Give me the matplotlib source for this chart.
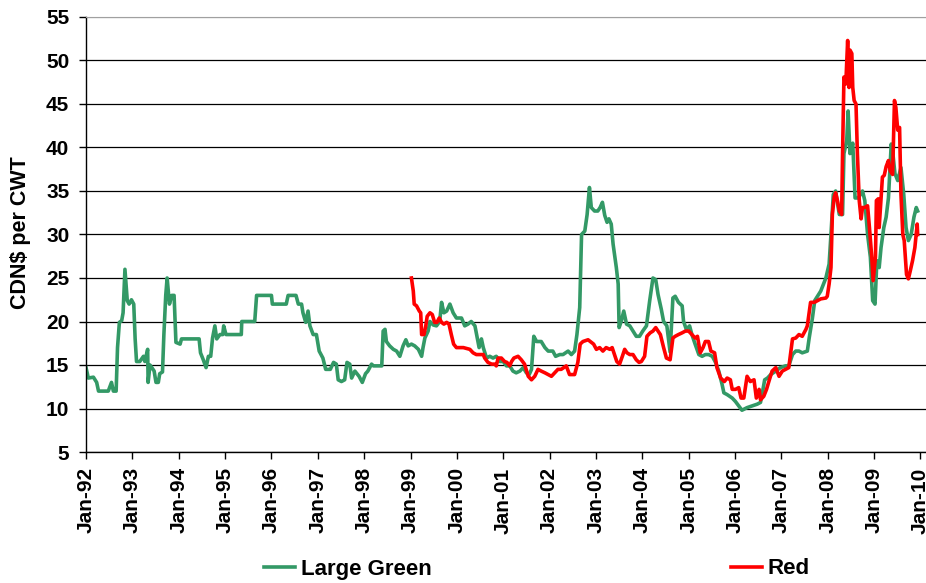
import matplotlib
matplotlib.use("Agg")
import matplotlib.pyplot as plt

plt.rcParams['font.family'] = ['Liberation Sans', 'DejaVu Sans']
plt.rcParams['font.weight'] = 'bold'

# decimal years
green_years = [1992.00, 1992.05, 1992.16, 1992.23, 1992.27, 1992.48, 1992.55, 1992.59, 1992.65, 1992.68,
               1992.72, 1992.77, 1992.80, 1992.84, 1992.89, 1992.93, 1992.98, 1993.03, 1993.06, 1993.09,
               1993.16, 1993.24, 1993.27, 1993.33, 1993.34, 1993.38, 1993.42, 1993.47, 1993.51, 1993.56,
               1993.59, 1993.65, 1993.68, 1993.72, 1993.75, 1993.80, 1993.85, 1993.90, 1993.94, 1994.03,
               1994.06, 1994.44, 1994.47, 1994.53, 1994.59, 1994.64, 1994.69, 1994.73, 1994.78, 1994.82,
               1994.89, 1994.95, 1994.97, 1995.02, 1995.35, 1995.36, 1995.64, 1995.68, 1996.00, 1996.02,
               1996.32, 1996.36, 1996.53, 1996.58, 1996.65, 1996.68, 1996.74, 1996.79, 1996.83, 1996.90,
               1996.97, 1997.03, 1997.11, 1997.17, 1997.27, 1997.34, 1997.40, 1997.44, 1997.51, 1997.58,
               1997.63, 1997.69, 1997.73, 1997.80, 1997.89, 1997.96, 1998.03, 1998.08, 1998.16, 1998.20,
               1998.38, 1998.41, 1998.45, 1998.48, 1998.55, 1998.63, 1998.70, 1998.77, 1998.84, 1998.90,
               1998.95, 1999.02, 1999.09, 1999.17, 1999.24, 1999.27, 1999.31, 1999.38, 1999.42, 1999.49,
               1999.56, 1999.63, 1999.67, 1999.72, 1999.78, 1999.85, 1999.92, 1999.99, 2000.10, 2000.17,
               2000.24, 2000.31, 2000.39, 2000.44, 2000.48, 2000.53, 2000.57, 2000.64, 2000.71, 2000.78,
               2000.85, 2000.93, 2001.00, 2001.07, 2001.14, 2001.21, 2001.28, 2001.36, 2001.43, 2001.50,
               2001.56, 2001.61, 2001.66, 2001.72, 2001.82, 2001.90, 2001.97, 2002.07, 2002.13, 2002.22,
               2002.29, 2002.40, 2002.47, 2002.54, 2002.59, 2002.65, 2002.69, 2002.76, 2002.81, 2002.86,
               2002.90, 2002.97, 2003.04, 2003.09, 2003.14, 2003.19, 2003.24, 2003.28, 2003.33, 2003.37,
               2003.44, 2003.48, 2003.50, 2003.55, 2003.60, 2003.66, 2003.73, 2003.80, 2003.87, 2003.94,
               2004.01, 2004.09, 2004.16, 2004.23, 2004.29, 2004.34, 2004.41, 2004.46, 2004.53, 2004.60,
               2004.66, 2004.71, 2004.78, 2004.86, 2004.89, 2004.95, 2005.02, 2005.07, 2005.14, 2005.22,
               2005.29, 2005.36, 2005.43, 2005.51, 2005.58, 2005.65, 2005.72, 2005.76, 2005.83, 2005.94,
               2006.01, 2006.08, 2006.15, 2006.26, 2006.37, 2006.48, 2006.55, 2006.59, 2006.64, 2006.70,
               2006.77, 2006.88, 2006.98, 2007.09, 2007.16, 2007.24, 2007.31, 2007.38, 2007.45, 2007.56,
               2007.60, 2007.67, 2007.72, 2007.78, 2007.85, 2007.91, 2007.96, 2008.03, 2008.07, 2008.12,
               2008.17, 2008.25, 2008.32, 2008.35, 2008.41, 2008.44, 2008.48, 2008.54, 2008.59, 2008.66,
               2008.75, 2008.80, 2008.86, 2008.92, 2008.97, 2009.02, 2009.06, 2009.11, 2009.15, 2009.21,
               2009.26, 2009.31, 2009.37, 2009.40, 2009.45, 2009.51, 2009.58, 2009.64, 2009.69, 2009.74,
               2009.80, 2009.86, 2009.91, 2009.94]
green_vals = [14.7, 13.5, 13.6, 13.0, 12.0, 12.0, 13.0, 12.0, 12.0, 17.0,
              19.9, 20.1, 21.0, 26.0, 22.4, 22.0, 22.5, 22.0, 18.0, 15.4,
              15.4, 16.0, 15.4, 16.8, 13.0, 15.0, 14.7, 14.3, 13.0, 13.0,
              14.0, 14.2, 18.5, 23.0, 25.0, 22.0, 23.0, 23.0, 17.6, 17.4,
              18.0, 18.0, 16.4, 15.6, 14.7, 16.0, 16.0, 18.1, 19.5, 18.0,
              18.5, 18.5, 19.5, 18.5, 18.5, 20.0, 20.0, 23.0, 23.0, 22.0,
              22.0, 23.0, 23.0, 22.0, 22.0, 21.0, 19.9, 21.2, 19.5, 18.5,
              18.5, 16.6, 15.8, 14.5, 14.5, 15.3, 15.1, 13.3, 13.1, 13.3,
              15.3, 15.1, 13.5, 14.3, 13.7, 13.0, 14.0, 14.3, 15.1, 14.9,
              14.9, 18.9, 19.1, 17.7, 17.2, 16.8, 16.6, 16.0, 17.2, 17.9,
              17.2, 17.4, 17.2, 16.8, 16.0, 17.0, 18.1, 18.9, 20.0, 19.6,
              19.5, 20.0, 22.2, 21.0, 21.2, 22.0, 21.0, 20.4, 20.4, 19.5,
              19.7, 20.0, 19.5, 18.1, 17.0, 18.0, 17.0, 15.8, 16.0, 15.8,
              16.0, 15.4, 15.4, 14.9, 14.9, 14.3, 14.1, 14.3, 14.7, 14.1,
              13.9, 14.5, 18.3, 17.7, 17.7, 17.0, 16.6, 16.6, 16.0, 16.2,
              16.2, 16.6, 16.2, 16.6, 18.5, 21.6, 30.0, 30.4, 32.3, 35.4,
              33.1, 32.7, 32.7, 33.1, 33.7, 32.2, 31.4, 31.8, 31.2, 28.9,
              26.2, 24.3, 19.3, 20.1, 21.2, 19.7, 19.5, 18.9, 18.3, 18.3,
              18.9, 19.5, 22.4, 25.0, 24.8, 23.1, 21.4, 20.0, 19.5, 16.5,
              22.7, 22.9, 22.2, 21.8, 20.0, 19.1, 19.5, 18.5, 17.4, 16.2,
              16.0, 16.2, 16.2, 16.0, 15.3, 14.3, 12.8, 11.8, 11.6, 11.2,
              10.8, 10.3, 9.8, 10.1, 10.3, 10.5, 10.7, 11.8, 13.3, 13.5,
              13.9, 14.3, 14.7, 14.9, 14.9, 16.2, 16.6, 16.6, 16.4, 16.6,
              18.1, 20.4, 22.4, 22.9, 23.5, 24.3, 25.0, 26.6, 30.0, 34.6,
              35.0, 32.3, 32.3, 39.3, 40.8, 44.2, 39.3, 40.5, 34.2, 34.2,
              35.0, 33.9, 30.0, 27.4, 22.4, 22.0, 27.0, 26.2, 28.5, 30.8,
              32.0, 34.2, 40.4, 39.6, 37.0, 36.2, 37.7, 34.6, 30.8, 29.3,
              30.0, 32.0, 33.1, 32.7]

red_years = [1999.02, 1999.06, 1999.08, 1999.13, 1999.19, 1999.22, 1999.24, 1999.29, 1999.33, 1999.36,
             1999.42, 1999.47, 1999.52, 1999.57, 1999.62, 1999.67, 1999.72, 1999.78, 1999.83, 1999.88,
             1999.93, 1999.99, 2000.14, 2000.28, 2000.35, 2000.42, 2000.57, 2000.60, 2000.67, 2000.75,
             2000.82, 2000.85, 2000.89, 2000.96, 2001.03, 2001.08, 2001.14, 2001.18, 2001.23, 2001.32,
             2001.39, 2001.46, 2001.54, 2001.61, 2001.68, 2001.75, 2001.82, 2001.90, 2001.97, 2002.04,
             2002.11, 2002.18, 2002.25, 2002.36, 2002.43, 2002.54, 2002.61, 2002.66, 2002.72, 2002.83,
             2002.90, 2002.95, 2003.01, 2003.08, 2003.15, 2003.22, 2003.30, 2003.35, 2003.40, 2003.45,
             2003.51, 2003.57, 2003.62, 2003.67, 2003.73, 2003.80, 2003.87, 2003.93, 2003.98, 2004.05,
             2004.10, 2004.17, 2004.23, 2004.29, 2004.34, 2004.39, 2004.46, 2004.52, 2004.60, 2004.66,
             2004.71, 2004.78, 2004.86, 2004.93, 2005.00, 2005.07, 2005.14, 2005.19, 2005.25, 2005.31,
             2005.36, 2005.43, 2005.48, 2005.56, 2005.61, 2005.69, 2005.77, 2005.83, 2005.90, 2005.94,
             2006.01, 2006.08, 2006.13, 2006.19, 2006.26, 2006.33, 2006.41, 2006.46, 2006.52, 2006.55,
             2006.62, 2006.68, 2006.73, 2006.80, 2006.88, 2006.95, 2007.02, 2007.09, 2007.16, 2007.24,
             2007.31, 2007.38, 2007.45, 2007.53, 2007.56, 2007.63, 2007.71, 2007.78, 2007.85, 2007.96,
             2007.99, 2008.03, 2008.07, 2008.10, 2008.14, 2008.17, 2008.21, 2008.25, 2008.30, 2008.32,
             2008.35, 2008.39, 2008.43, 2008.46, 2008.48, 2008.52, 2008.54, 2008.57, 2008.61, 2008.64,
             2008.68, 2008.72, 2008.75, 2008.80, 2008.86, 2008.90, 2008.95, 2008.98, 2009.03, 2009.05,
             2009.09, 2009.11, 2009.15, 2009.18, 2009.22, 2009.26, 2009.31, 2009.35, 2009.40, 2009.44,
             2009.47, 2009.51, 2009.55, 2009.58, 2009.62, 2009.65, 2009.70, 2009.74, 2009.78, 2009.83,
             2009.88, 2009.93, 2009.94]
red_vals = [25.0, 23.5, 22.0, 21.8, 21.2, 21.0, 18.5, 18.5, 19.5, 20.6,
            21.0, 20.8, 19.9, 19.9, 20.4, 19.9, 19.7, 19.9, 19.7, 18.5,
            17.4, 17.0, 17.0, 16.8, 16.4, 16.2, 16.2, 15.8, 15.3, 15.1,
            15.1, 14.9, 15.8, 15.8, 15.4, 15.3, 14.9, 15.4, 15.8, 16.0,
            15.6, 15.1, 13.7, 13.3, 13.7, 14.5, 14.3, 14.1, 13.9, 13.7,
            14.1, 14.5, 14.5, 14.9, 13.9, 13.9, 15.3, 17.4, 17.7, 17.9,
            17.6, 17.4, 16.8, 17.0, 16.6, 17.0, 16.8, 17.0, 16.2, 15.4,
            15.1, 16.0, 16.8, 16.4, 16.2, 16.2, 15.6, 15.3, 15.4, 16.0,
            18.3, 18.7, 18.9, 19.3, 18.9, 18.5, 17.0, 15.8, 15.6, 18.1,
            18.3, 18.5, 18.7, 18.9, 18.9, 18.5, 18.1, 18.3, 16.4, 17.0,
            17.7, 17.7, 16.6, 16.4, 14.7, 13.5, 13.1, 13.5, 13.3, 12.2,
            12.2, 12.4, 11.2, 11.2, 13.7, 13.1, 13.3, 11.2, 12.2, 11.0,
            11.4, 12.2, 13.1, 14.3, 14.7, 13.7, 14.3, 14.5, 14.7, 18.0,
            18.1, 18.5, 18.3, 19.1, 19.5, 22.2, 22.2, 22.4, 22.6, 22.7,
            22.9, 24.3, 26.2, 32.3, 34.3, 34.8, 33.9, 32.7, 32.3, 39.3,
            48.1, 47.3, 52.3, 46.9, 51.2, 50.8, 46.9, 45.4, 45.0, 39.3,
            33.9, 31.8, 33.1, 33.1, 33.3, 30.8, 27.4, 24.7, 27.4, 33.9,
            34.1, 30.8, 34.2, 36.6, 36.8, 37.8, 38.5, 37.3, 36.9, 45.4,
            44.6, 42.0, 42.3, 34.6, 30.0, 29.3, 25.4, 24.9, 25.8, 27.0,
            28.5, 31.2, 30.0]

tick_years = list(range(1992, 2011))
tick_labels = ["Jan-%02d" % (y % 100) for y in tick_years]

fig = plt.figure(figsize=(9.26, 5.83), dpi=100)
ax = fig.add_axes([86/926, 1-452/583, 1-86/926, (452-17)/583])

ax.plot(green_years, green_vals, color='#339966', lw=2.6, label='Large Green', solid_joinstyle='round')
ax.plot(red_years, red_vals, color='#ff0000', lw=2.6, label='Red', solid_joinstyle='round')

ax.set_xlim(1992, 2010.12)
ax.set_ylim(5, 55)
ax.set_yticks(range(5, 56, 5))
ax.set_xticks(tick_years)
ax.set_xticklabels(tick_labels, rotation=90, fontsize=15, fontweight='bold')
ax.tick_params(axis='y', labelsize=15, length=5, width=1, pad=7, direction='out')
ax.tick_params(axis='x', length=5, width=1, pad=6, direction='out')
for lab in ax.get_yticklabels():
    lab.set_fontweight('bold')

ax.yaxis.grid(True, color='black', lw=0.9)
ax.set_axisbelow(True)
gl = ax.get_ygridlines()
gl[-1].set_color('#a0a0a0')
ax.spines['right'].set_visible(False)
ax.spines['top'].set_color('#a0a0a0')
ax.spines['left'].set_linewidth(1)
ax.spines['bottom'].set_linewidth(1)

fig.text(21/926, 1-233/583, 'CDN$ per CWT', rotation=90, ha='center', va='center',
         fontsize=15.5, fontweight='bold')

fig.legend(loc='center', bbox_to_anchor=(537/926, 1-569/583), ncol=2, frameon=False,
           handlelength=1.4, handletextpad=0.25, columnspacing=13.5,
           borderpad=0, prop={'weight': 'bold', 'size': 16})

fig.savefig('out.png', dpi=100)
